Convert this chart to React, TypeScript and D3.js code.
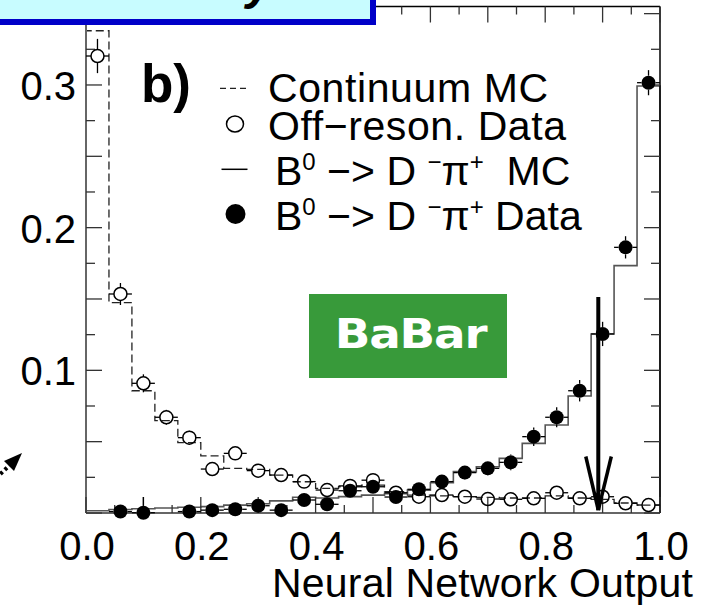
import React from "react";
import * as d3 from "d3";

// ---- data (bins of width 0.04 on [0,1]) ----
const binLow = [0, 0.04, 0.08, 0.12, 0.16, 0.2, 0.24, 0.28, 0.32, 0.36, 0.4, 0.44, 0.48, 0.52, 0.56, 0.6, 0.64, 0.68, 0.72, 0.76, 0.8, 0.84, 0.88, 0.92, 0.96];
const binWidth = 0.04;

const continuumMC = [0.338, 0.1474, 0.0857, 0.0647, 0.0493, 0.040, 0.0313, 0.0306, 0.0266, 0.0219, 0.0173, 0.0184, 0.0196, 0.0149, 0.0125, 0.012, 0.0115, 0.011, 0.0105, 0.0105, 0.012, 0.0105, 0.0095, 0.007, 0.0055];

const offResData = [0.3203, 0.1535, 0.0909, 0.0671, 0.0528, 0.0308, 0.0418, 0.0297, 0.0266, 0.022, 0.0161, 0.019, 0.023, 0.0142, 0.0114, 0.0126, 0.0114, 0.0098, 0.0096, 0.0103, 0.0142, 0.0103, 0.0114, 0.0068, 0.0056];
const offResErr = [0.012, 0.0077, 0.0063, 0.0052, 0.0049, 0.004, 0.0045, 0.004, 0.004, 0.0035, 0.0033, 0.0035, 0.0037, 0.003, 0.003, 0.003, 0.003, 0.0028, 0.0028, 0.0028, 0.003, 0.0028, 0.003, 0.0025, 0.0022];

const b0MC = [0.0016, 0.0025, 0.003, 0.0035, 0.004, 0.0045, 0.0055, 0.0065, 0.0085, 0.011, 0.0105, 0.0115, 0.0125, 0.0135, 0.016, 0.0212, 0.029, 0.0324, 0.0383, 0.0488, 0.0617, 0.082, 0.1255, 0.1734, 0.2993];

const b0Data: (number | null)[] = [null, 0.001, 0.0002, null, 0.001, 0.002, 0.0026, 0.0051, 0.002, 0.0091, 0.0061, 0.0156, 0.0184, 0.0112, 0.0166, 0.022, 0.0283, 0.0313, 0.0355, 0.0535, 0.0671, 0.0857, 0.1255, 0.1862, 0.3016];
const b0DataErr = [0, 0.003, 0.011, 0, 0.003, 0.003, 0.003, 0.004, 0.003, 0.004, 0.004, 0.004, 0.0045, 0.004, 0.0045, 0.0045, 0.005, 0.005, 0.0055, 0.0065, 0.007, 0.0075, 0.0085, 0.0078, 0.0088];

const xTickValues = [0, 0.2, 0.4, 0.6, 0.8, 1.0];
const xTickLabels = ["0.0", "0.2", "0.4", "0.6", "0.8", "1.0"];
const yTickValues = [0.1, 0.2, 0.3];
const yTickLabels = ["0.1", "0.2", "0.3"];

const xTitle = "Neural Network Output";
const panelLabel = "b)";
const logoText = "BaBar";
const legend1 = "Continuum MC";
const legend2 = "Off\u2212reson. Data";

// cut arrow (data coords)
const cutValue = 0.8925;
const cutTop = 0.1514;
const cutBottom = 0.002;

const FONT = "'Liberation Sans', Arial, Helvetica, sans-serif";

export default function App() {
  const W = 711, H = 606;
  const x = d3.scaleLinear().domain([0, 1]).range([86, 660]);
  const y = d3.scaleLinear().domain([0, 0.355]).range([513, 6.5]);
  const yMax = 0.355;

  const stepPath = (vals: number[]) => {
    const pts: [number, number][] = [[x(binLow[0]), y(0)]];
    vals.forEach((v, i) => {
      pts.push([x(binLow[i]), y(v)]);
      pts.push([x(binLow[i] + binWidth), y(v)]);
    });
    pts.push([x(binLow[vals.length - 1] + binWidth), y(0)]);
    return d3.line()(pts) as string;
  };

  const errorBars = (vals: (number | null)[], errs: number[], r: number) => {
    const segs: JSX.Element[] = [];
    vals.forEach((v, i) => {
      if (v == null) return;
      const cx = x(binLow[i] + binWidth / 2);
      const cy = y(v);
      const xl = x(binLow[i]);
      const xh = x(binLow[i] + binWidth);
      segs.push(<line key={`h1${i}`} x1={xl} x2={cx - r} y1={cy} y2={cy} />);
      segs.push(<line key={`h2${i}`} x1={cx + r} x2={xh} y1={cy} y2={cy} />);
      const e = errs[i];
      const yt = y(Math.min(v + e, yMax));
      const yb = y(Math.max(v - e, 0));
      if (cy - r > yt) segs.push(<line key={`v1${i}`} x1={cx} x2={cx} y1={yt} y2={cy - r} />);
      if (cy + r < yb) segs.push(<line key={`v2${i}`} x1={cx} x2={cx} y1={cy + r} y2={yb} />);
    });
    return segs;
  };

  const xMinor = d3.range(0, 21).map((i) => i * 0.05);
  const yMinor = d3.range(0, 15).map((i) => i * 0.025);

  const x0 = x(0), x1 = x(1), yb = y(0), yt = y(yMax);

  const sup = 24;
  const supDy = -15;

  return (
    <svg width={W} height={H} style={{ position: "absolute", left: 0, top: 0, background: "#fff" }} fontFamily={FONT}>
      <rect x={0} y={0} width={W} height={H} fill="#fff" />

      {/* histograms */}
      <path d={stepPath(continuumMC)} fill="none" stroke="#222" strokeWidth={1.3} strokeDasharray="8,4" />
      <path d={stepPath(b0MC)} fill="none" stroke="#555" strokeWidth={1.6} />

      {/* frame */}
      <line x1={x0} x2={x0} y1={yt} y2={yb} stroke="#666" strokeWidth={2} />
      <line x1={x0} x2={x1} y1={yb} y2={yb} stroke="#666" strokeWidth={2} />
      <line x1={x0} x2={x1} y1={yt} y2={yt} stroke="#000" strokeWidth={1.5} />
      <line x1={x1} x2={x1} y1={yt} y2={yb} stroke="#000" strokeWidth={1.5} />

      {/* ticks */}
      <g stroke="#333" strokeWidth={1.3}>
        {xMinor.map((v, i) => {
          const len = i % 2 === 0 ? 16 : 8;
          return (
            <g key={`xt${i}`}>
              <line x1={x(v)} x2={x(v)} y1={yb} y2={yb - len} />
              <line x1={x(v)} x2={x(v)} y1={yt} y2={yt + len} />
            </g>
          );
        })}
        {yMinor.map((v, i) => {
          const len = i % 2 === 0 ? 16 : 9;
          return (
            <g key={`yt${i}`}>
              <line x1={x0} x2={x0 + len} y1={y(v)} y2={y(v)} />
              <line x1={x1} x2={x1 - len} y1={y(v)} y2={y(v)} />
            </g>
          );
        })}
      </g>

      {/* tick labels */}
      {xTickValues.map((v, i) => (
        <text key={`xl${i}`} x={x(v) + 1} y={560} fontSize={40} textAnchor="middle" fill="#000">{xTickLabels[i]}</text>
      ))}
      {yTickValues.map((v, i) => (
        <text key={`yl${i}`} x={76} y={y(v) + 15} fontSize={40} textAnchor="end" fill="#000">{yTickLabels[i]}</text>
      ))}
      <text x={693} y={597} fontSize={41} textAnchor="end" fill="#000" textLength={421} lengthAdjust="spacing">{xTitle}</text>

      {/* open circles: off-resonance data */}
      <g stroke="#000" strokeWidth={1.3}>{errorBars(offResData, offResErr, 6.5)}</g>
      {offResData.map((v, i) => (
        <circle key={`oc${i}`} cx={x(binLow[i] + binWidth / 2)} cy={y(v)} r={6.5} fill="none" stroke="#000" strokeWidth={1.5} />
      ))}

      {/* filled circles: B0 data */}
      <g stroke="#000" strokeWidth={1.3}>{errorBars(b0Data, b0DataErr, 7)}</g>
      {b0Data.map((v, i) =>
        v == null ? null : (
          <circle key={`fc${i}`} cx={x(binLow[i] + binWidth / 2)} cy={y(v)} r={7} fill="#000" />
        )
      )}

      {/* BaBar logo */}
      <rect x={309} y={294} width={198} height={84} fill="#389a3a" />
      <g transform="translate(410.5,347.5) scale(1.17,1)">
        <text x={0} y={0} fontSize={40} fontWeight="bold" fill="#fff" textAnchor="middle"
          fontFamily="'DejaVu Sans', Verdana, sans-serif" letterSpacing={-1}>{logoText}</text>
      </g>

      {/* cut arrow */}
      <g stroke="#000" strokeWidth={4} strokeLinecap="butt">
        <line x1={x(cutValue)} x2={x(cutValue)} y1={y(cutTop)} y2={y(cutBottom)} />
        <line x1={x(cutValue) - 12.5} y1={456.5} x2={x(cutValue)} y2={y(cutBottom)} strokeWidth={3.5} />
        <line x1={x(cutValue) + 13} y1={456.5} x2={x(cutValue)} y2={y(cutBottom)} strokeWidth={3.5} />
      </g>

      {/* panel label */}
      <text x={141} y={101.7} fontSize={53} fontWeight="bold" fill="#000">{panelLabel}</text>

      {/* legend */}
      <line x1={220} x2={247} y1={88.3} y2={88.3} stroke="#222" strokeWidth={1.3} strokeDasharray="6,4" />
      <ellipse cx={235} cy={124} rx={8.5} ry={8} fill="none" stroke="#000" strokeWidth={1.5} />
      <line x1={221.5} x2={247.5} y1={169.3} y2={169.3} stroke="#000" strokeWidth={1.5} />
      <circle cx={235.5} cy={214} r={10} fill="#000" />

      <g fontSize={41} fill="#000">
        <text x={268} y={101.7} textLength={280} lengthAdjust="spacing">{legend1}</text>
        <text x={268} y={140} textLength={298} lengthAdjust="spacing">{legend2}</text>
        <text x={275} y={185} xmlSpace="preserve">
          B<tspan fontSize={sup} dy={supDy}>0</tspan>
          <tspan dy={-supDy}>{" \u2212> D "}</tspan>
          <tspan fontSize={sup} dy={supDy}>{"\u2212"}</tspan>
          <tspan dy={-supDy}>{"\u03c0"}</tspan>
          <tspan fontSize={sup} dy={supDy}>+</tspan>
          <tspan dy={-supDy}>{"\u00a0\u00a0MC"}</tspan>
        </text>
        <text x={275} y={230} xmlSpace="preserve">
          B<tspan fontSize={sup} dy={supDy}>0</tspan>
          <tspan dy={-supDy}>{" \u2212> D "}</tspan>
          <tspan fontSize={sup} dy={supDy}>{"\u2212"}</tspan>
          <tspan dy={-supDy}>{"\u03c0"}</tspan>
          <tspan fontSize={sup} dy={supDy}>+</tspan>
          <tspan dy={-supDy}>{" Data"}</tspan>
        </text>
      </g>

      {/* dotted pointer arrow at left edge */}
      <line x1={-4} y1={478} x2={10} y2={465} stroke="#000" strokeWidth={4} strokeDasharray="3,3" />
      <polygon points="22,453 4,461 14,471" fill="#000" />

      {/* title box (cut off at top) */}
      <rect x={-10} y={-10} width={383} height={32} fill="#c8fcff" stroke="#0000c8" strokeWidth={6} />
      <text x={246} y={-1} fontSize={48} fontWeight="bold" fontStyle="italic" fill="#000">y</text>
    </svg>
  );
}
